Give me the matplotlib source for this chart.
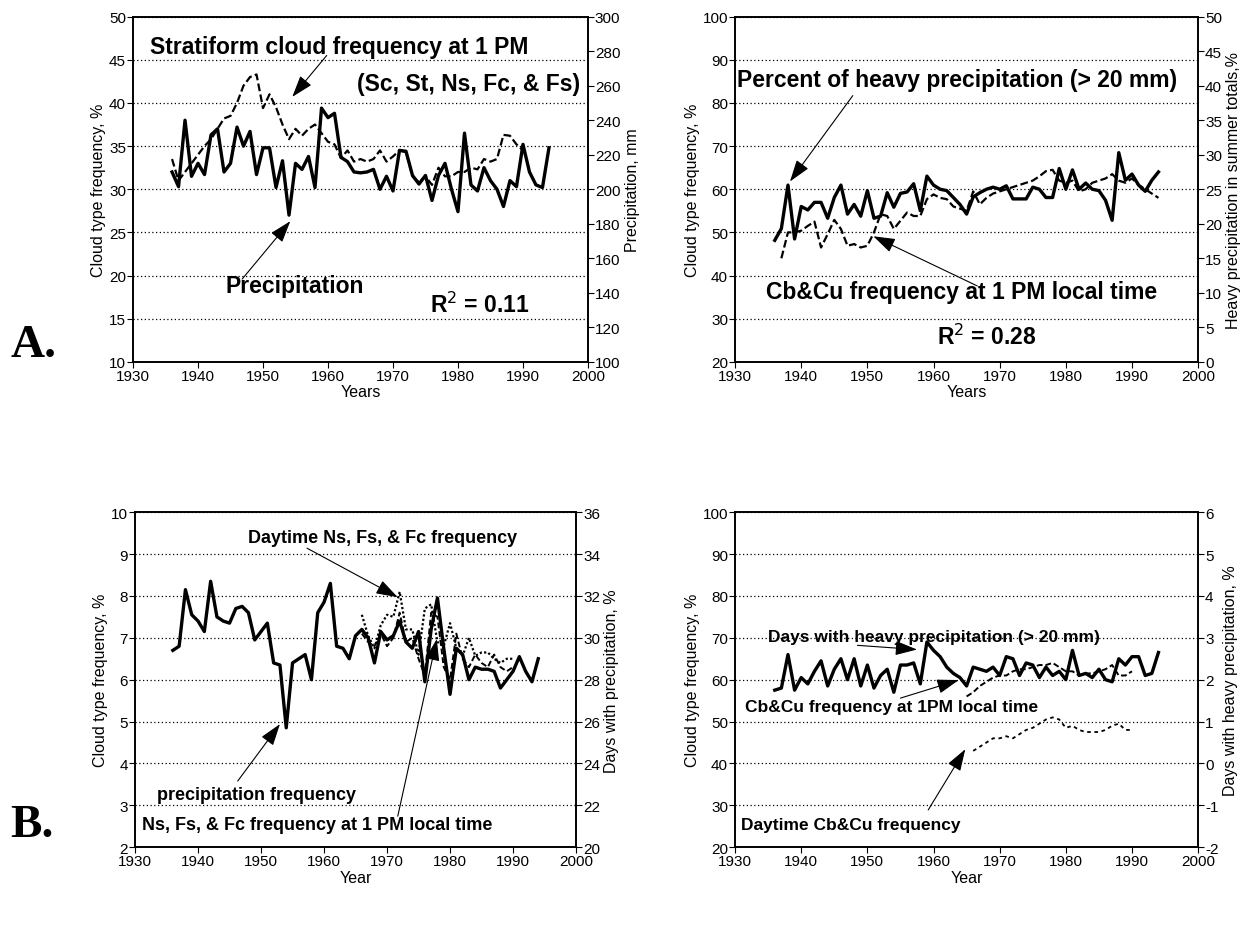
import numpy as np
import matplotlib
matplotlib.use("Agg")
import matplotlib.pyplot as plt

plt.rcParams['font.family'] = ['Liberation Sans', 'DejaVu Sans']
plt.rcParams['axes.unicode_minus'] = False

# ---------------- data ----------------
years_all = list(range(1936, 1995))

# A, left panel: precipitation (mm) and stratiform cloud frequency (%)
precip_mm = [210, 201.5, 240, 207.5, 215, 208.5, 231.5, 235, 210, 215,
             236, 225, 233.5, 208.5, 224, 224, 201, 216.5, 185, 215,
             211.5, 219, 201, 247, 241.5, 244, 218.5, 216, 210, 209.5,
             210, 211.5, 200, 207.5, 199, 222.5, 222, 208, 203, 208,
             193.5, 208, 215, 200, 187, 232.5, 202.5, 199, 212.5, 205,
             200, 190, 205, 201.5, 226, 210, 202.5, 201, 224]
strat_years = list(range(1936, 1991))
strat_freq = [33.5, 31, 32, 33, 34, 35, 35.8, 37, 38.2, 38.5,
              40, 42, 43, 43.3, 39.4, 41, 39.5, 37.5, 35.8, 37,
              36.2, 37, 37.5, 36.5, 35.5, 35.2, 33.6, 34.5, 33.2, 33.5,
              33.2, 33.5, 34.5, 33.2, 33.8, 34.5, 34.3, 31.5, 30.8, 31.5,
              30.5, 32.5, 31.5, 31.5, 32, 32, 32.5, 32.3, 33.5, 33.2,
              33.5, 36.3, 36.2, 35.2, 34.5]

# A, right panel: heavy precipitation share (%) and Cb&Cu frequency (%)
heavy_share = [17.6, 19.3, 25.6, 17.8, 22.5, 22, 23.1, 23.1, 20.8, 23.8,
               25.6, 21.4, 22.8, 21.1, 24.8, 20.8, 21.1, 24.5, 22.4, 24.4,
               24.6, 25.8, 21.9, 26.9, 25.6, 25, 24.8, 23.8, 22.8, 21.4,
               23.9, 24.5, 25, 25.3, 25, 25.5, 23.6, 23.6, 23.6, 25.3,
               25, 23.8, 23.8, 28, 25, 27.8, 25, 25.9, 25, 24.8,
               23.4, 20.5, 30.3, 26.3, 27.2, 25.6, 24.7, 26.3, 27.5]
cbcu_years = list(range(1937, 1995))
cbcu_freq = [44, 50, 50, 50.4, 51.5, 52.5, 46.5, 49.6, 52.9, 50.8,
             46.9, 47.3, 46.5, 46.9, 50, 54.2, 53.8, 50.8, 52.7, 54.6,
             53.8, 53.8, 57.7, 58.8, 58, 57.7, 56, 55.5, 55, 59.5,
             56.5, 58, 59, 59.5, 60, 60.5, 61, 61.5, 62, 63,
             64.2, 64.5, 62, 61.5, 62, 59.5, 60, 61.5, 62, 62.5,
             63.5, 62, 61.5, 62.5, 61, 60, 59, 58]

# B, left panel: days with precipitation (%) and Ns/Fs/Fc frequency (%)
precip_days = [29.4, 29.6, 32.3, 31.1, 30.8, 30.3, 32.7, 31, 30.8, 30.7,
               31.4, 31.5, 31.2, 29.9, 30.3, 30.7, 28.8, 28.7, 25.7, 28.8,
               29, 29.2, 28, 31.2, 31.7, 32.6, 29.6, 29.5, 29, 30.1,
               30.4, 30, 28.8, 30.3, 29.9, 30.1, 30.8, 29.8, 29.5, 30.3,
               27.9, 30.4, 31.9, 29.5, 27.3, 29.5, 29.2, 28, 28.6, 28.5,
               28.5, 28.4, 27.6, 28, 28.4, 29.1, 28.4, 27.9, 29]
ns_years = list(range(1966, 1991))
ns_1pm = [7.1, 6.9, 6.8, 7.1, 6.8, 7.0, 7.6, 6.9, 7.0, 6.5,
          6.1, 7.6, 7.5, 6.3, 6.0, 7.1, 6.5, 6.3, 6.6, 6.4,
          6.3, 6.6, 6.3, 6.2, 6.3]
ns_day = [7.55, 7.05, 6.75, 7.3, 7.55, 7.5, 8.1, 7.2, 7.2, 6.6,
          7.7, 7.8, 6.9, 6.8, 7.35, 6.75, 6.57, 7.0, 6.57, 6.65,
          6.65, 6.5, 6.4, 6.5, 6.5]

# B, right panel: days with heavy precipitation (%) and Cb&Cu frequency (%)
heavy_days = [1.75, 1.8, 2.6, 1.75, 2.05, 1.9, 2.2, 2.45, 1.85, 2.25,
              2.5, 2.0, 2.5, 1.85, 2.35, 1.8, 2.1, 2.25, 1.7, 2.35,
              2.35, 2.4, 1.9, 2.9, 2.7, 2.55, 2.3, 2.15, 2.05, 1.85,
              2.3, 2.25, 2.2, 2.3, 2.1, 2.55, 2.5, 2.1, 2.4, 2.35,
              2.05, 2.3, 2.1, 2.2, 2.0, 2.7, 2.1, 2.15, 2.05, 2.25,
              2.0, 1.95, 2.5, 2.35, 2.55, 2.55, 2.1, 2.15, 2.65]
cb_years = list(range(1965, 1991))
cb_1pm = [56, 57, 58.5, 59.5, 60.5, 61, 61, 62, 62.5, 62.5,
          63, 63.5, 63.5, 64, 63, 62, 62, 61, 61.5, 61.5,
          62, 62.5, 63.5, 61, 61, 62]
cb_day_years = list(range(1966, 1991))
cb_day = [43, 44, 45, 46, 46, 46.5, 46, 47, 48, 48.5,
          49.5, 50.5, 51, 50.5, 48.5, 49, 48, 47.5, 47.5, 47.5,
          48, 49, 49.5, 48, 48]

# ---------------- figure ----------------
fig = plt.figure(figsize=(12.55, 9.28), dpi=100)

TICK = 11
LAB = 11.5
BIG = 16.5    # annotation size, top row
MID = 13      # annotation size, bottom row
ARROW = dict(arrowstyle="-|>,head_length=0.9,head_width=0.3", color="black",
             lw=0.8, mutation_scale=15, shrinkA=0, shrinkB=0)


def make_panel(rect, ylim, yticks, ylim2, yticks2, ylabel, ylabel2, xlabel):
    ax = fig.add_axes(rect)
    ax.set_xlim(1930, 2000)
    ax.set_xticks(range(1930, 2001, 10))
    ax.set_ylim(*ylim)
    ax.set_yticks(yticks)
    ax.grid(axis="y", color="black", linestyle=(0, (1, 2)), lw=0.9)
    ax.set_ylabel(ylabel, fontsize=LAB, labelpad=2)
    ax.set_xlabel(xlabel, fontsize=LAB, labelpad=1)
    ax.tick_params(labelsize=TICK, direction="out", length=4, pad=1)
    ax2 = ax.twinx()
    ax2.set_ylim(*ylim2)
    ax2.set_yticks(yticks2)
    ax2.set_ylabel(ylabel2, fontsize=LAB, labelpad=3)
    ax2.tick_params(labelsize=TICK, direction="out", length=4, pad=1)
    for a in (ax, ax2):
        for s in a.spines.values():
            s.set_linewidth(1.2)
    return ax, ax2


def note(ax, txt, xy, size, ha="left"):
    ax.text(xy[0], xy[1], txt, fontsize=size, fontweight="bold",
            ha=ha, va="center")


def arrow(ax, start, end):
    ax.annotate("", xy=end, xytext=start, arrowprops=ARROW)


# A left
ax, ax2 = make_panel([0.106, 0.609, 0.3625, 0.372], (10, 50), range(10, 51, 5),
                     (100, 300), range(100, 301, 20),
                     "Cloud type frequency, %", "Precipitation, mm", "Years")
ax.plot(strat_years, strat_freq, color="black", lw=1.6, ls=(0, (3.5, 1.5)))
ax2.plot(years_all, precip_mm, color="black", lw=2.4)
note(ax, "Stratiform cloud frequency at 1 PM", (1932.6, 46.5), BIG)
note(ax, "(Sc, St, Ns, Fc, & Fs)", (1998.8, 42.2), BIG, ha="right")
arrow(ax, (1959.8, 45.5), (1954.5, 40.7))
note(ax, "Precipitation", (1944.2, 18.8), BIG)
arrow(ax, (1946.8, 19.6), (1954.2, 26.3))
note(ax, r"R$^{2}$ = 0.11", (1975.7, 16.7), BIG)

# A right
ax, ax2 = make_panel([0.5857, 0.609, 0.369, 0.372], (20, 100), range(20, 101, 10),
                     (0, 50), range(0, 51, 5),
                     "Cloud type frequency, %",
                     "Heavy precipitation in summer totals,%", "Years")
ax.plot(cbcu_years, cbcu_freq, color="black", lw=1.6, ls=(0, (3.5, 1.5)))
ax2.plot(years_all, heavy_share, color="black", lw=2.4)
note(ax, "Percent of heavy precipitation (> 20 mm)", (1930.3, 85.4), BIG)
arrow(ax, (1947.8, 81.7), (1938.3, 61.8))
note(ax, "Cb&Cu frequency at 1 PM local time", (1934.7, 36.2), BIG)
arrow(ax, (1966.6, 37.6), (1950.9, 49.1))
note(ax, r"R$^{2}$ = 0.28", (1960.5, 26), BIG)

# B left
ax, ax2 = make_panel([0.1076, 0.086, 0.3514, 0.361], (2, 10), range(2, 11, 1),
                     (20, 36), range(20, 37, 2),
                     "Cloud type frequency, %", "Days with precipitation, %", "Year")
ax.plot(ns_years, ns_day, color="black", lw=1.6, ls=(0, (1, 1)))
ax.plot(ns_years, ns_1pm, color="black", lw=1.4, ls=(0, (3, 1.5)))
ax2.plot(years_all, precip_days, color="black", lw=2.4)
note(ax, "Daytime Ns, Fs, & Fc frequency", (1947.9, 9.4), MID)
arrow(ax, (1957.3, 9.14), (1971.7, 7.97))
note(ax, "precipitation frequency", (1933.5, 3.27), MID)
arrow(ax, (1946.3, 3.58), (1953, 4.94))
note(ax, "Ns, Fs, & Fc frequency at 1 PM local time", (1931.1, 2.55), MID)
arrow(ax, (1971.7, 2.74), (1977.9, 6.97))

# B right
ax, ax2 = make_panel([0.5857, 0.086, 0.369, 0.361], (20, 100), range(20, 101, 10),
                     (-2, 6), range(-2, 7, 1),
                     "Cloud type frequency, %",
                     "Days with heavy precipitation, %", "Year")
ax.plot(cb_day_years, cb_day, color="black", lw=1.3, ls=(0, (2, 2)))
ax.plot(cb_years, cb_1pm, color="black", lw=1.4, ls=(0, (3, 1.5)))
ax2.plot(years_all, heavy_days, color="black", lw=2.4)
note(ax, "Days with heavy precipitation (> 20 mm)", (1935, 70.4), 12.5)
arrow(ax, (1948.5, 68.2), (1957.5, 67.2))
note(ax, "Cb&Cu frequency at 1PM local time", (1931.5, 53.7), 12.5)
arrow(ax, (1955, 55.6), (1963.8, 59.9))
note(ax, "Daytime Cb&Cu frequency", (1930.9, 25.3), 12.5)
arrow(ax, (1959.2, 28.9), (1964.8, 43.4))

fig.text(0.008, 0.627, "A.", fontsize=34, fontweight="bold",
         family=["Liberation Serif", "DejaVu Serif"], va="center")
fig.text(0.008, 0.11, "B.", fontsize=34, fontweight="bold",
         family=["Liberation Serif", "DejaVu Serif"], va="center")

fig.savefig("out.png", dpi=100)
